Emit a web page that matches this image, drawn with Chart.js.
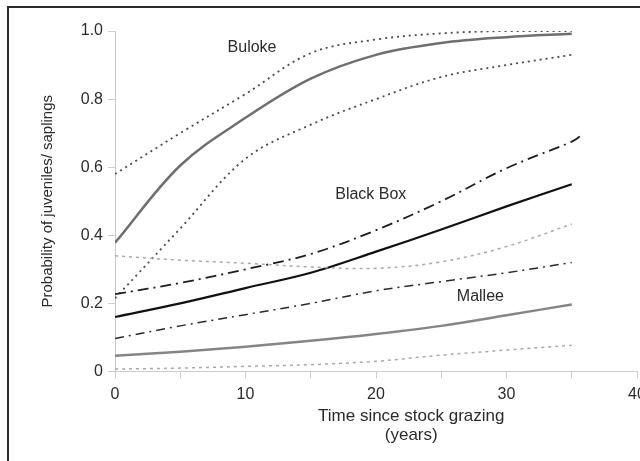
<!DOCTYPE html>
<html>
<head>
<meta charset="utf-8">
<script src="https://cdn.jsdelivr.net/npm/chart.js@4"></script>
<style>
  html, body { margin: 0; padding: 0; background: #fff; overflow: hidden; }
  #wrap { position: relative; width: 660px; height: 461px; }
  #frame { position: absolute; left: 7px; top: 6px; width: 700px; height: 500px;
           border-top: 2px solid #2a2a2a; border-left: 2px solid #2a2a2a; pointer-events: none; }
</style>
</head>
<body>
<div id="wrap">
  <canvas id="chart" width="660" height="461"></canvas>
  <div id="frame"></div>
</div>
<script>
// values
const years = [0, 5, 10, 15, 20, 25, 30, 35];
const bulokeMean  = [0.378, 0.605, 0.745, 0.86, 0.93, 0.965, 0.982, 0.992];
const bulokeUpper = [0.58, 0.70, 0.815, 0.935, 0.975, 0.993, 1.0, 1.0];
const bulokeLower = [0.215, 0.42, 0.625, 0.725, 0.80, 0.865, 0.90, 0.93];
const blackBoxMean  = [0.16, 0.20, 0.245, 0.29, 0.352, 0.417, 0.485, 0.55];
const blackBoxYears = [0, 5, 10, 15, 20, 25, 30, 35, 35.7];
const blackBoxUpper = [0.227, 0.26, 0.30, 0.345, 0.415, 0.50, 0.597, 0.675, 0.692];
const blackBoxLower = [0.097, 0.134, 0.167, 0.20, 0.237, 0.264, 0.29, 0.32];
const malleeMean  = [0.046, 0.058, 0.073, 0.09, 0.11, 0.134, 0.165, 0.197];
const malleeUpper = [0.34, 0.327, 0.318, 0.307, 0.303, 0.322, 0.367, 0.433];
const malleeLower = [0.007, 0.01, 0.015, 0.02, 0.03, 0.048, 0.063, 0.077];
const yTicks = [0, 0.2, 0.4, 0.6, 0.8, 1.0];

// species labels, placed in data units
const speciesLabels = [
    { text: 'Buloke', x: 10.5, y: 0.95 },
    { text: 'Black Box', x: 19.6, y: 0.52 },
    { text: 'Mallee', x: 28, y: 0.22 }
];
const xTitle = ['Time since stock grazing', '(years)'];

function pts(xs, ys) {
    return ys.map((v, i) => ({ x: xs[i], y: v }));
}

function line(label, xs, ys, color, width, dash) {
    return {
        label: label,
        data: pts(xs, ys),
        borderColor: color,
        borderWidth: width,
        borderDash: dash || [],
        pointRadius: 0,
        fill: false,
        tension: 0.35
    };
}

const family = '"Liberation Sans", Arial, sans-serif';

const labelPlugin = {
    id: 'speciesLabels',
    afterDraw(chart) {
        const ctx = chart.ctx;
        const xs = chart.scales.x, ys = chart.scales.y;
        ctx.save();
        ctx.fillStyle = '#2b2b2b';
        ctx.textAlign = 'center';
        ctx.textBaseline = 'middle';
        ctx.font = '16px ' + family;
        speciesLabels.forEach(l => {
            ctx.fillText(l.text, xs.getPixelForValue(l.x), ys.getPixelForValue(l.y));
        });
        // x axis title (sits right of the plot centre in the original)
        ctx.font = '17px ' + family;
        const cx = xs.getPixelForValue(22.7);
        ctx.fillText(xTitle[0], cx, 416);
        ctx.fillText(xTitle[1], cx, 435);
        ctx.restore();
    }
};

new Chart(document.getElementById('chart'), {
    type: 'line',
    data: {
        datasets: [
            line('Mallee lower', years, malleeLower, '#a8a8a8', 1.5, [3, 4]),
            line('Mallee upper', years, malleeUpper, '#a8a8a8', 1.5, [3, 4]),
            line('Mallee', years, malleeMean, '#858585', 2.5),
            line('Black Box lower', years, blackBoxLower, '#2a2a2a', 1.5, [9, 5, 2, 5]),
            line('Black Box upper', blackBoxYears, blackBoxUpper, '#1e1e1e', 1.8, [11, 5, 2, 5]),
            line('Black Box', years, blackBoxMean, '#111111', 2.2),
            line('Buloke lower', years, bulokeLower, '#4a4a4a', 1.8, [2, 4]),
            line('Buloke upper', years, bulokeUpper, '#4a4a4a', 1.8, [2, 4]),
            line('Buloke', years, bulokeMean, '#6f6f6f', 2.5)
        ]
    },
    options: {
        responsive: false,
        animation: false,
        events: [],
        layout: { padding: { top: 31, right: 23, left: 0, bottom: 0 } },
        plugins: {
            legend: { display: false },
            tooltip: { enabled: false }
        },
        scales: {
            x: {
                type: 'linear',
                min: 0,
                max: 40,
                border: { color: '#cccccc', width: 1 },
                grid: { drawOnChartArea: false, color: '#cccccc', tickLength: 7 },
                ticks: {
                    stepSize: 5,
                    color: '#2b2b2b',
                    font: { family: family, size: 16 },
                    padding: 6,
                    maxRotation: 0,
                    callback: v => (v % 10 === 0 ? String(v) : '')
                },
                afterFit: s => { s.height = 89.5; }
            },
            y: {
                min: 0,
                max: 1,
                clip: false,
                border: { color: '#cccccc', width: 1 },
                grid: { drawOnChartArea: false, color: '#cccccc', tickLength: 7 },
                afterBuildTicks: s => { s.ticks = yTicks.map(v => ({ value: v })); },
                ticks: {
                    color: '#2b2b2b',
                    font: { family: family, size: 16 },
                    padding: 5,
                    callback: v => (v === 0 ? '0' : v.toFixed(1))
                },
                title: {
                    display: true,
                    text: 'Probability of juveniles/ saplings',
                    color: '#2b2b2b',
                    font: { family: family, size: 15 },
                    padding: { top: 39, bottom: 0 }
                },
                afterFit: s => { s.width = 115; }
            }
        }
    },
    plugins: [labelPlugin]
});
</script>
</body>
</html>
